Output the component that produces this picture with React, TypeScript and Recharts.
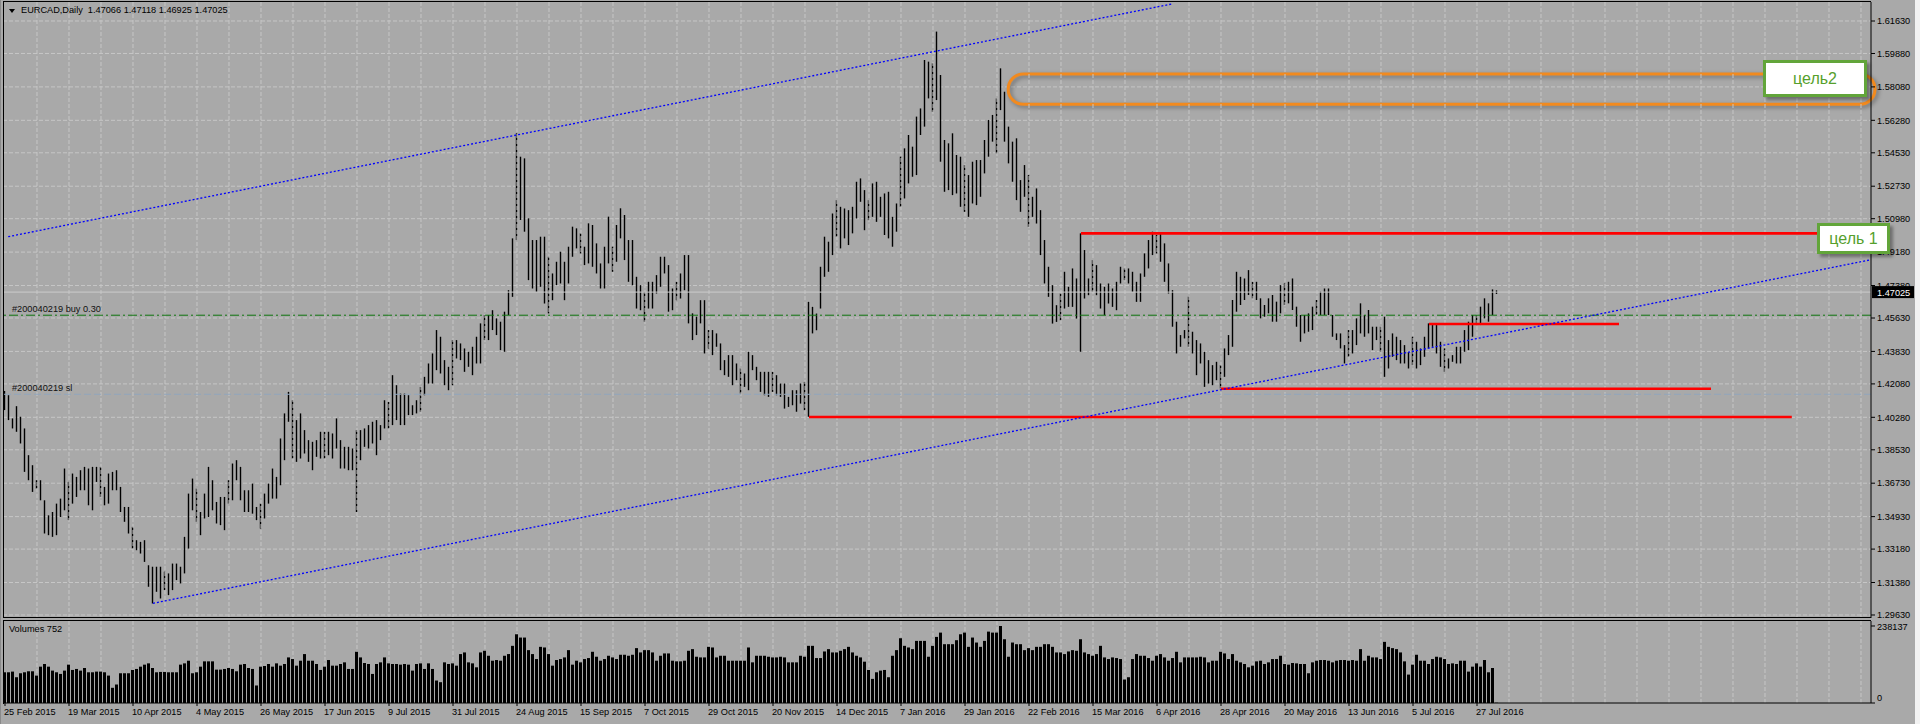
import React from "react";
import {
  Bar,
  CartesianGrid,
  ComposedChart,
  ReferenceArea,
  ReferenceLine,
  XAxis,
  YAxis,
} from "recharts";

const W = 1920;
const H = 724;
const BG = "#a9a9a9";
const GRID = "#c6c6c6";
const FONT = "'Liberation Sans', Arial, sans-serif";

const symbol = "EURCAD,Daily";
const quote = ["1.47066", "1.47118", "1.46925", "1.47025"];

const dateLabels = [
  "25 Feb 2015", "19 Mar 2015", "10 Apr 2015", "4 May 2015", "26 May 2015",
  "17 Jun 2015", "9 Jul 2015", "31 Jul 2015", "24 Aug 2015", "15 Sep 2015",
  "7 Oct 2015", "29 Oct 2015", "20 Nov 2015", "14 Dec 2015", "7 Jan 2016",
  "29 Jan 2016", "22 Feb 2016", "15 Mar 2016", "6 Apr 2016", "28 Apr 2016",
  "20 May 2016", "13 Jun 2016", "5 Jul 2016", "27 Jul 2016",
];

const priceTicks = [
  1.6163, 1.5988, 1.5808, 1.5628, 1.5453, 1.5273, 1.5098, 1.4918, 1.4738, 1.4563,
  1.4383, 1.4208, 1.4028, 1.3853, 1.3673, 1.3493, 1.3318, 1.3138, 1.2963,
];
const volumeTicks = [0, 238137];

// daily highs / lows, one per bar from 25 Feb 2015
const highs = [
  1.4170, 1.4147, 1.4022, 1.4088, 1.4031, 1.3968, 1.3824, 1.3770, 1.3689, 1.3689,
  1.3581, 1.3500, 1.3518, 1.3563, 1.3590, 1.3752, 1.3680, 1.3725, 1.3707, 1.3743,
  1.3761, 1.3752, 1.3761, 1.3761, 1.3761, 1.3653, 1.3725, 1.3734, 1.3743, 1.3653,
  1.3545, 1.3545, 1.3438, 1.3366, 1.3357, 1.3366, 1.3231, 1.3223, 1.3223, 1.3223,
  1.3196, 1.3187, 1.3240, 1.3240, 1.3223, 1.3384, 1.3617, 1.3698, 1.3644, 1.3518,
  1.3617, 1.3761, 1.3689, 1.3572, 1.3599, 1.3599, 1.3689, 1.3779, 1.3797, 1.3761,
  1.3635, 1.3635, 1.3671, 1.3545, 1.3563, 1.3617, 1.3671, 1.3752, 1.3707, 1.3914,
  1.4049, 1.4165, 1.4120, 1.4013, 1.4049, 1.3959, 1.3905, 1.3896, 1.3905, 1.3950,
  1.3950, 1.3950, 1.3941, 1.4022, 1.3905, 1.3869, 1.3869, 1.3860, 1.3959, 1.3959,
  1.3968, 1.3986, 1.4004, 1.4013,
  1.3986, 1.4120, 1.4111, 1.4255, 1.4201, 1.4156, 1.4156, 1.4147, 1.4093, 1.4120,
  1.4192, 1.4246, 1.4318, 1.4372, 1.4498, 1.4462, 1.4336, 1.4300, 1.4444, 1.4444,
  1.4426, 1.4399, 1.4381, 1.4408, 1.4462, 1.4534, 1.4579, 1.4579, 1.4605, 1.4561,
  1.4543, 1.4597, 1.4713, 1.4992, 1.5558, 1.5432, 1.5423, 1.5100, 1.4983, 1.4983,
  1.5001, 1.5001, 1.4893, 1.4803, 1.4866, 1.4920, 1.4866, 1.4947, 1.5055, 1.5046,
  1.5019, 1.4947, 1.5073, 1.5064, 1.4965, 1.4857, 1.4947, 1.5109, 1.4947, 1.5064,
  1.5154, 1.5118, 1.4983, 1.4983, 1.4785, 1.4740, 1.4704, 1.4758, 1.4758, 1.4794,
  1.4893, 1.4893, 1.4848, 1.4722, 1.4758, 1.4803, 1.4902, 1.4902, 1.4588, 1.4570,
  1.4659, 1.4659, 1.4498, 1.4498, 1.4480, 1.4426, 1.4336, 1.4363, 1.4363, 1.4318,
  1.4291, 1.4264, 1.4381, 1.4363, 1.4300, 1.4273, 1.4273, 1.4273, 1.4273, 1.4255,
  1.4210, 1.4210, 1.4138, 1.4174, 1.4174, 1.4210, 1.4219, 1.4650,
  1.4623, 1.4587, 1.4839, 1.5001, 1.4974, 1.5126, 1.5198, 1.5162, 1.5153, 1.5144,
  1.5162, 1.5297, 1.5315, 1.5252, 1.5198, 1.5288, 1.5297, 1.5216, 1.5234, 1.5243,
  1.5108, 1.5180, 1.5432, 1.5477, 1.5549, 1.5486, 1.5648, 1.5692, 1.5953, 1.5944,
  1.5935, 1.6106, 1.5872, 1.5522, 1.5504, 1.5558, 1.5441, 1.5432, 1.5387, 1.5333,
  1.5405, 1.5414, 1.5414, 1.5522, 1.5630, 1.5657, 1.5746, 1.5908, 1.5782, 1.5594,
  1.5513, 1.5531, 1.5306, 1.5387, 1.5333, 1.5216, 1.5261, 1.5144, 1.4983, 1.4839,
  1.4740, 1.4632, 1.4695, 1.4812, 1.4731, 1.4830, 1.4776, 1.5019, 1.4929, 1.4776,
  1.4875, 1.4848, 1.4749, 1.4731, 1.4749, 1.4722, 1.4758, 1.4839, 1.4830, 1.4830,
  1.4812, 1.4758, 1.4803, 1.4911, 1.4983, 1.5028, 1.5010, 1.5019, 1.4965, 1.4857,
  1.4713, 1.4543,
  1.4471, 1.4498, 1.4678, 1.4489, 1.4444, 1.4426, 1.4381, 1.4336, 1.4309, 1.4327,
  1.4309, 1.4399, 1.4471, 1.4660, 1.4812, 1.4785, 1.4776, 1.4821, 1.4758, 1.4758,
  1.4669, 1.4633, 1.4669, 1.4687, 1.4651, 1.4740, 1.4749, 1.4758, 1.4776, 1.4624,
  1.4579, 1.4579, 1.4588, 1.4624, 1.4660, 1.4705, 1.4722, 1.4722, 1.4579, 1.4480,
  1.4480, 1.4417, 1.4498, 1.4498, 1.4561, 1.4642, 1.4579, 1.4606, 1.4516, 1.4516,
  1.4516, 1.4570, 1.4444, 1.4480, 1.4462, 1.4444, 1.4417, 1.4381, 1.4462, 1.4435,
  1.4399, 1.4462, 1.4534, 1.4525, 1.4525, 1.4435, 1.4399, 1.4345, 1.4363, 1.4408,
  1.4408, 1.4498, 1.4543, 1.4579, 1.4579, 1.4624, 1.4669, 1.4642, 1.4717, 1.47118,
];

const lows = [
  1.4067, 1.4013, 1.3968, 1.3950, 1.3887, 1.3734, 1.3689, 1.3626, 1.3644, 1.3581,
  1.3402, 1.3393, 1.3384, 1.3393, 1.3491, 1.3527, 1.3474, 1.3563, 1.3599, 1.3635,
  1.3635, 1.3554, 1.3527, 1.3680, 1.3599, 1.3554, 1.3563, 1.3635, 1.3635, 1.3518,
  1.3465, 1.3402, 1.3321, 1.3312, 1.3294, 1.3249, 1.3115, 1.3025, 1.3088, 1.3052,
  1.3097, 1.3070, 1.3097, 1.3151, 1.3133, 1.3187, 1.3321, 1.3527, 1.3465, 1.3393,
  1.3483, 1.3491, 1.3527, 1.3456, 1.3447, 1.3420, 1.3563, 1.3581, 1.3689, 1.3581,
  1.3518, 1.3518, 1.3509, 1.3474, 1.3429, 1.3483, 1.3563, 1.3590, 1.3590, 1.3662,
  1.3797, 1.4004, 1.3806, 1.3788, 1.3806, 1.3833, 1.3788, 1.3743, 1.3815, 1.3806,
  1.3806, 1.3824, 1.3806, 1.3860, 1.3752, 1.3752, 1.3743, 1.3743, 1.3518, 1.3797,
  1.3869, 1.3860, 1.3887, 1.3824,
  1.3905, 1.3968, 1.3968, 1.3986, 1.4013, 1.3986, 1.3986, 1.4040, 1.4040, 1.4049,
  1.4058, 1.4147, 1.4210, 1.4210, 1.4282, 1.4264, 1.4201, 1.4174, 1.4201, 1.4345,
  1.4336, 1.4273, 1.4300, 1.4255, 1.4318, 1.4318, 1.4444, 1.4444, 1.4498, 1.4471,
  1.4390, 1.4381, 1.4579, 1.4677, 1.4983, 1.5091, 1.5028, 1.4767, 1.4722, 1.4704,
  1.4731, 1.4641, 1.4588, 1.4659, 1.4740, 1.4749, 1.4659, 1.4749, 1.4893, 1.4938,
  1.4911, 1.4848, 1.4857, 1.4839, 1.4803, 1.4722, 1.4722, 1.4857, 1.4812, 1.4866,
  1.4992, 1.4875, 1.4758, 1.4740, 1.4614, 1.4605, 1.4543, 1.4614, 1.4614, 1.4695,
  1.4731, 1.4803, 1.4597, 1.4605, 1.4659, 1.4668, 1.4713, 1.4534, 1.4444, 1.4471,
  1.4534, 1.4372, 1.4399, 1.4363, 1.4408, 1.4282, 1.4255, 1.4246, 1.4201, 1.4228,
  1.4156, 1.4192, 1.4174, 1.4282, 1.4228, 1.4165, 1.4147, 1.4138, 1.4165, 1.4147,
  1.4138, 1.4075, 1.4084, 1.4093, 1.4058, 1.4102, 1.4066, 1.4031,
  1.4480, 1.4497, 1.4614, 1.4785, 1.4812, 1.4902, 1.5001, 1.4938, 1.4992, 1.4956,
  1.5019, 1.5099, 1.5189, 1.5036, 1.5090, 1.5108, 1.5081, 1.5108, 1.5010, 1.4992,
  1.4947, 1.5028, 1.5162, 1.5207, 1.5288, 1.5324, 1.5333, 1.5549, 1.5594, 1.5746,
  1.5674, 1.5737, 1.5405, 1.5243, 1.5252, 1.5225, 1.5234, 1.5162, 1.5135, 1.5108,
  1.5180, 1.5171, 1.5216, 1.5342, 1.5432, 1.5513, 1.5450, 1.5683, 1.5513, 1.5396,
  1.5297, 1.5198, 1.5135, 1.5216, 1.5054, 1.5108, 1.5072, 1.4902, 1.4749, 1.4677,
  1.4533, 1.4542, 1.4551, 1.4614, 1.4623, 1.4623, 1.4560, 1.4381, 1.4668, 1.4686,
  1.4704, 1.4686, 1.4614, 1.4578, 1.4641, 1.4623, 1.4605, 1.4749, 1.4767, 1.4749,
  1.4704, 1.4650, 1.4650, 1.4785, 1.4830, 1.4902, 1.4911, 1.4866, 1.4758, 1.4695,
  1.4516, 1.4372,
  1.4408, 1.4453, 1.4408, 1.4372, 1.4255, 1.4318, 1.4192, 1.4210, 1.4201, 1.4228,
  1.4183, 1.4246, 1.4363, 1.4408, 1.4597, 1.4633, 1.4660, 1.4687, 1.4669, 1.4660,
  1.4561, 1.4570, 1.4588, 1.4543, 1.4543, 1.4588, 1.4633, 1.4642, 1.4606, 1.4516,
  1.4435, 1.4480, 1.4489, 1.4498, 1.4579, 1.4579, 1.4579, 1.4579, 1.4462, 1.4444,
  1.4399, 1.4318, 1.4354, 1.4372, 1.4417, 1.4480, 1.4462, 1.4480, 1.4390, 1.4444,
  1.4381, 1.4246, 1.4291, 1.4354, 1.4336, 1.4318, 1.4318, 1.4291, 1.4309, 1.4291,
  1.4309, 1.4354, 1.4399, 1.4408, 1.4372, 1.4300, 1.4273, 1.4291, 1.4327, 1.4318,
  1.4318, 1.4381, 1.4390, 1.4462, 1.4525, 1.4525, 1.4561, 1.4543, 1.4579, 1.46925,
];

const volumes = [
  95000, 95000, 97100, 79700, 92000, 95000, 98100, 98100, 84800, 112400,
  120600, 112400, 100200, 95000, 89900, 100200, 118600, 102200, 105300, 100200,
  108300, 95000, 95000, 97100, 97100, 95000, 84800, 47000, 57200, 92000,
  92000, 92000, 102200, 105300, 112400, 118600, 122600, 108300, 95000, 96100,
  96100, 95000, 95000, 95000, 118600, 122600, 130800, 92000, 95000, 112400,
  128800, 128800, 128800, 103200, 103200, 105300, 108300, 105300, 98100, 118600,
  120600, 108300, 105300, 54200, 112400, 114500, 120600, 112400, 122600, 115500,
  120600, 141000, 135900, 115500, 130800, 151300, 130800, 130800, 120600, 102200,
  112400, 132900, 115500, 115500, 120600, 125700, 105300, 105300, 158400, 141000,
  123700, 120600, 89900, 120600, 125700, 141000, 122600, 120600, 120600, 118600,
  120600, 118600, 100200, 120600, 122600, 105300, 122600, 105300, 69500, 64400,
  125700, 120600, 122600, 115500, 151300, 156400, 125700, 122600, 110400, 156400,
  161500, 146100, 130800, 132900, 130800, 146100, 151300, 176800, 212600, 202400,
  202400, 163500, 151300, 135900, 173700, 171700, 151300, 115500, 132900, 135900,
  141000, 163500, 118600, 130800, 125700, 135900, 139000, 158400, 143100, 130800,
  135900, 146100, 141000, 135900, 149200, 149200, 146100, 149200, 169700, 156400,
  163500, 163500, 156400, 130800, 146100, 153300, 153300, 130800, 128800, 128800,
  130800, 161500, 166600, 143100, 141000, 141000, 173700, 171700, 141000, 146100,
  146100, 130800, 130800, 130800, 130800, 130800, 171700, 125700, 146100, 146100,
  146100, 143100, 141000, 141000, 143100, 141000, 125700, 125700, 125700,
  146100, 143100, 176800, 176800, 139000, 139000, 159400, 166600, 156400, 156400,
  161500, 166600, 173700, 156400, 146100, 141000, 127800, 102200, 74600, 95000,
  100200, 102200, 79700, 146100, 163500, 200300, 176800, 171700, 166600, 192100,
  192100, 192100, 143100, 176800, 204400, 217700, 181900, 181900, 181900, 194200,
  212600, 217700, 173700, 202400, 187000, 173700, 192100, 220800, 217700, 217700,
  238137, 197200, 143100, 187000, 181900, 181900, 163500, 169700, 163500, 173700,
  173700, 181900, 181900, 173700, 156400, 156400, 151300, 159400, 163500, 161500,
  197200, 156400, 151300, 146100, 151300, 176800, 141000, 135900, 141000, 139000,
  135900, 72600, 79700, 135900, 151300, 146100, 146100, 139000, 130800, 146100,
  151300, 141000, 130800, 139000, 158400, 125700, 141000, 141000, 141000, 141000,
  143100, 141000, 125700, 130800, 130800, 158400, 153300, 135900, 151300, 130800,
  125700, 120600, 110400, 115500, 128800, 130800, 120600, 125700, 135900, 135900,
  146100, 120600, 118600, 123700, 122600, 120600, 120600, 92000, 125700, 130800,
  132900, 132900, 130800, 125700, 130800, 132900, 132900, 130800, 132900, 130800,
  166600, 130800, 146100, 141000, 141000, 135900, 189100, 173700, 169700, 166600,
  156400, 128800, 87900, 118600, 149200, 130800, 130800, 120600, 135900, 143100,
  141000, 135900, 120600, 122600, 120600, 130800, 130800, 97100, 112400, 122600,
  112400, 132900, 95000, 108300, 752,
];

// trade levels and drawn objects (bar index, price)
const buyPrice = 1.4578;
const slPrice = 1.4152;
const bidPrice = 1.47025;
const levelLines = [
  { from: 201, to: 446.7, price: 1.403 },
  { from: 269, to: 466.5, price: 1.5019 },
  { from: 304, to: 426.5, price: 1.4182 },
  { from: 356, to: 403.5, price: 1.4531 },
];
const channelUpper = [
  { x: 0.8, y: 1.5001 },
  { x: 292, y: 1.6256 },
];
const channelLower = [
  { x: 37, y: 1.3026 },
  { x: 466.5, y: 1.4877 },
];
const target2Zone = { x1: 250.8, x2: 467.5, y1: 1.5714, y2: 1.5878 };

const X_DOMAIN: [number, number] = [-0.5, 466.5];
const PRICE_DOMAIN: [number, number] = [1.29468, 1.62654];
const VOL_DOMAIN: [number, number] = [0, 253600];

const gridTicks = Array.from({ length: 58 }, (_, k) => (k + 1) * 8);
const dateTicks = dateLabels.map((_, k) => k * 16);

const rows = highs.map((h, i) => ({ i, hl: [lows[i], h], vol: volumes[i] }));

function HLBar(props: any) {
  const { x, y, width, height } = props;
  if (x == null || y == null) return null;
  const cx = x + width / 2;
  const top = Math.min(y, y + height);
  const len = Math.max(Math.abs(height), 1);
  return (
    <line x1={cx} x2={cx} y1={top} y2={top + len} stroke="#000" strokeWidth={1.4} />
  );
}

function LineTag(props: any) {
  const { viewBox, text } = props;
  if (!viewBox) return null;
  return (
    <text
      x={viewBox.x + 9}
      y={viewBox.y - 3}
      fontSize={9.2}
      fontFamily={FONT}
      fill="#111"
    >
      {text}
    </text>
  );
}

function BidTag(props: any) {
  const { viewBox } = props;
  if (!viewBox) return null;
  const x = viewBox.x + viewBox.width + 1;
  return (
    <g>
      <rect x={x} y={viewBox.y - 6} width={42} height={12} fill="#000" />
      <text x={x + 5} y={viewBox.y + 3.5} fontSize={9.2} fontFamily={FONT} fill="#fff">
        {bidPrice.toFixed(5)}
      </text>
    </g>
  );
}

function ZoneShape(props: any) {
  const { x, y, width, height } = props;
  return (
    <rect
      x={x}
      y={y}
      width={width}
      height={height}
      rx={height / 2}
      ry={height / 2}
      fill="none"
      stroke="#f28a1e"
      strokeWidth={3}
      style={{ filter: "drop-shadow(2px 2px 2px rgba(0,0,0,0.35))" }}
    />
  );
}

function DateTick(props: any) {
  const { x, y, payload } = props;
  const label = dateLabels[Math.round(payload.value / 16)];
  return (
    <text x={x - 1} y={y} dy="0.71em" fontSize={9.2} fontFamily={FONT} fill="#000">
      {label}
    </text>
  );
}

function VolTick(props: any) {
  const { x, y, payload } = props;
  const dy = payload.value === 0 ? -5 : 1;
  return (
    <text x={x} y={y + dy} dy="0.355em" fontSize={9.2} fontFamily={FONT} fill="#000">
      {payload.value}
    </text>
  );
}

function TargetBox({ left, top, width, height, text }: any) {
  return (
    <div
      style={{
        position: "absolute",
        left,
        top,
        width,
        height,
        boxSizing: "border-box",
        background: "#fff",
        border: "3px solid #62a53a",
        boxShadow: "3px 3px 3px rgba(0,0,0,0.35)",
        color: "#56a02c",
        fontFamily: FONT,
        fontSize: 16,
        display: "flex",
        alignItems: "center",
        justifyContent: "center",
      }}
    >
      {text}
    </div>
  );
}

const smallText: React.CSSProperties = {
  position: "absolute",
  fontFamily: FONT,
  fontSize: 9.2,
  color: "#000",
  whiteSpace: "pre",
  lineHeight: "11px",
};

export default function App() {
  return (
    <div
      style={{
        position: "fixed",
        left: 0,
        top: 0,
        width: W,
        height: H,
        background: BG,
        overflow: "hidden",
      }}
    >
      <div style={{ position: "absolute", left: 0, top: 0 }}>
        <ComposedChart
          width={W}
          height={620}
          data={rows}
          margin={{ top: 2, right: 0, bottom: 2, left: 3 }}
        >
          <CartesianGrid
            stroke={GRID}
            strokeDasharray="4 2"
            vertical={false}
            horizontalValues={priceTicks}
          />
          <XAxis
            dataKey="i"
            type="number"
            domain={X_DOMAIN}
            ticks={gridTicks}
            interval={0}
            allowDataOverflow
            tick={false}
            tickLine={false}
            axisLine={false}
            height={0}
          />
          <YAxis
            orientation="right"
            type="number"
            domain={PRICE_DOMAIN}
            ticks={priceTicks}
            interval={0}
            allowDataOverflow
            width={49}
            tickSize={4}
            tickMargin={2}
            tickFormatter={(v: number) => v.toFixed(5)}
            tick={{ fontSize: 9.2, fontFamily: FONT, fill: "#000" }}
            axisLine={{ stroke: "#000" }}
            tickLine={{ stroke: "#000" }}
          />
          {gridTicks.map((t) => (
            <ReferenceLine key={"g" + t} x={t} stroke={GRID} strokeDasharray="4 2" />
          ))}
          <ReferenceLine
            y={slPrice}
            stroke="#92a6bd"
            strokeDasharray="7 3"
            label={<LineTag text="#200040219 sl" />}
          />
          <ReferenceLine
            y={buyPrice}
            stroke="#0f740f"
            strokeDasharray="9 3 2 3"
            label={<LineTag text="#200040219 buy 0.30" />}
          />
          <ReferenceLine y={bidPrice} stroke="#cbcbcb" label={<BidTag />} />
          <Bar dataKey="hl" barSize={1} shape={<HLBar />} isAnimationActive={false} />
          {levelLines.map((l, k) => (
            <ReferenceLine
              key={k}
              segment={[
                { x: l.from, y: l.price },
                { x: l.to, y: l.price },
              ]}
              stroke="#ff0000"
              strokeWidth={2.6}
              ifOverflow="visible"
            />
          ))}
          <ReferenceLine
            segment={channelUpper}
            stroke="#0000ff"
            strokeDasharray="2 2"
            strokeWidth={1.3}
            ifOverflow="visible"
          />
          <ReferenceLine
            segment={channelLower}
            stroke="#0000ff"
            strokeDasharray="2 2"
            strokeWidth={1.3}
            ifOverflow="visible"
          />
          <ReferenceArea
            x1={target2Zone.x1}
            x2={target2Zone.x2}
            y1={target2Zone.y1}
            y2={target2Zone.y2}
            ifOverflow="visible"
            shape={<ZoneShape />}
          />
        </ComposedChart>
      </div>

      <div style={{ position: "absolute", left: 0, top: 621 }}>
        <ComposedChart
          width={W}
          height={103}
          data={rows}
          margin={{ top: 0, right: 0, bottom: 0, left: 3 }}
        >
          <CartesianGrid
            stroke={GRID}
            strokeDasharray="4 2"
            horizontal={false}
            verticalValues={gridTicks}
          />
          <XAxis
            dataKey="i"
            type="number"
            domain={X_DOMAIN}
            ticks={dateTicks}
            interval={0}
            allowDataOverflow
            height={21}
            tickSize={3}
            tickMargin={2}
            axisLine={{ stroke: "#000" }}
            tickLine={{ stroke: "#000" }}
            tick={<DateTick />}
          />
          <YAxis
            orientation="right"
            type="number"
            domain={VOL_DOMAIN}
            ticks={volumeTicks}
            interval={0}
            allowDataOverflow
            width={49}
            tickSize={4}
            tickMargin={2}
            axisLine={{ stroke: "#000" }}
            tickLine={{ stroke: "#000" }}
            tick={<VolTick />}
          />
          <Bar dataKey="vol" barSize={3} fill="#000" isAnimationActive={false} />
        </ComposedChart>
      </div>

      {/* panel frames */}
      <div
        style={{
          position: "absolute",
          left: 3,
          top: 1,
          width: 1868,
          height: 617,
          borderTop: "1px solid #000",
          borderLeft: "1px solid #000",
          borderBottom: "1px solid #000",
          boxSizing: "border-box",
          pointerEvents: "none",
        }}
      />
      <div
        style={{
          position: "absolute",
          left: 3,
          top: 620,
          width: 1868,
          height: 84,
          borderTop: "1px solid #000",
          borderLeft: "1px solid #000",
          boxSizing: "border-box",
        }}
      />
      <div style={{ position: "absolute", left: 1915, top: 0, width: 5, height: H, background: "#f2f2f2" }} />
      <div style={{ position: "absolute", left: 0, top: 0, width: 1, height: H, background: "#8a8a8a" }} />

      {/* header */}
      <div
        style={{
          position: "absolute",
          left: 9,
          top: 9,
          width: 0,
          height: 0,
          borderLeft: "3.5px solid transparent",
          borderRight: "3.5px solid transparent",
          borderTop: "4px solid #000",
        }}
      />
      <div style={{ ...smallText, left: 21, top: 5 }}>
        {symbol + "  " + quote.join(" ")}
      </div>
      <div style={{ ...smallText, left: 9, top: 624 }}>Volumes 752</div>

      <TargetBox left={1763} top={60} width={104} height={37} text="цель2" />
      <TargetBox left={1817} top={223} width={73} height={31} text="цель 1" />
    </div>
  );
}
